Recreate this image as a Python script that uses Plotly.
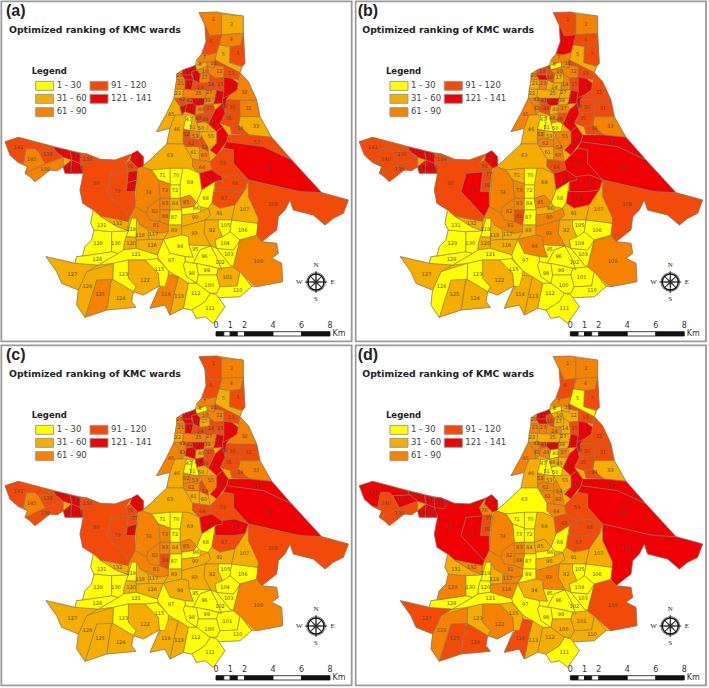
import math
import plotly.graph_objects as go

WIDTH, HEIGHT = 709, 688
panel_letters = ["(a)", "(b)", "(c)", "(d)"]
title_text = "Optimized ranking of KMC wards"
class_labels = ["1 - 30", "31 - 60", "61 - 90", "91 - 120", "121 - 141"]
class_colors = ["#FFFF00", "#F5AE00", "#F58200", "#F24A08", "#EE0005"]
scale_km = [0, 1, 2, 4, 6, 8]

# outer boundary of the city, in map units
city_outline = [(597,38),(650,36),(730,48),(730,100),(735,190),(728,198),(720,218),(745,245),(770,300),(780,350),(815,412),(875,480),(965,578),(1045,600),(1030,640),(1000,655),(975,675),(940,645),(880,630),(870,600),(855,630),(835,650),(830,690),(785,725),(830,730),(835,760),(815,775),(845,790),(848,845),(770,860),(755,860),(720,890),(660,893),(650,885),(675,920),(640,970),(615,950),(590,955),(575,930),(550,925),(510,945),(495,915),(450,925),(470,880),(478,858),(430,885),(400,875),(395,905),(408,922),(320,930),(255,952),(230,915),(235,870),(185,850),(170,815),(138,770),(225,790),(230,770),(248,768),(255,740),(275,720),(282,690),(272,670),(280,630),(248,610),(240,570),(250,520),(213,520),(195,520),(190,500),(172,512),(150,510),(105,545),(90,530),(75,520),(82,500),(55,488),(52,485),(30,465),(15,425),(55,412),(160,440),(210,452),(262,462),(300,478),(345,480),(395,462),(412,452),(430,470),(430,498),(425,500),(450,480),(500,432),(510,385),(470,395),(500,340),(522,295),(525,268),(530,240),(530,222),(548,210),(585,197),(590,180),(605,162),(618,125),(615,75)]

# ward outlines, in map units
wards = {
1: [(597,38),(650,36),(665,42),(665,104),(630,108),(615,75)],
2: [(665,42),(730,48),(730,100),(665,104)],
3: [(730,100),(735,190),(728,198),(688,188),(690,140),(722,135)],
4: [(665,104),(730,100),(722,135),(690,140),(657,135)],
5: [(657,135),(690,140),(688,188),(725,200),(720,218),(645,180),(650,158)],
6: [(615,75),(630,108),(665,104),(657,135),(650,158),(625,165),(605,162),(618,125)],
7: [(605,162),(625,165),(650,158),(645,180),(640,188),(600,190),(590,180)],
8: [(585,197),(620,185),(622,200),(590,210)],
9: [(548,210),(585,197),(590,210),(575,215),(575,225),(545,225)],
10: [(590,210),(622,200),(628,222),(600,222)],
11: [(620,185),(640,188),(645,195),(645,205),(622,200)],
12: [(645,195),(672,200),(672,232),(645,235),(628,222),(622,200),(645,205)],
13: [(645,180),(720,218),(715,240),(695,235),(672,232),(672,200),(645,195),(640,188)],
14: [(628,245),(628,222),(645,235),(650,270),(620,270),(620,248)],
15: [(645,235),(672,232),(672,275),(650,270)],
16: [(672,232),(695,235),(715,250),(712,270),(690,285),(668,295),(672,275)],
17: [(600,222),(628,222),(628,245),(620,248),(598,250)],
18: [(575,215),(590,210),(600,222),(598,250),(580,240)],
19: [(545,225),(575,225),(580,240),(555,240)],
20: [(530,240),(530,222),(548,210),(545,225),(555,240)],
21: [(530,240),(555,240),(555,268),(525,268)],
22: [(525,268),(550,268),(548,295),(522,295)],
23: [(555,240),(580,240),(575,270),(555,268)],
24: [(580,240),(598,250),(620,248),(620,270),(575,270)],
25: [(550,268),(575,270),(620,270),(615,295),(575,295),(548,295)],
27: [(620,270),(650,270),(645,295),(615,295)],
28: [(650,270),(672,275),(668,295),(668,310),(640,312),(645,295)],
29: [(668,295),(690,285),(680,298),(675,335),(668,310)],
30: [(680,298),(720,300),(720,335),(675,340),(675,335)],
31: [(720,300),(770,300),(780,350),(720,350)],
32: [(715,250),(720,218),(745,245),(770,300),(720,300),(680,298),(690,285),(712,270)],
33: [(720,350),(780,350),(815,412),(748,405),(715,375)],
34: [(690,380),(715,375),(748,405),(695,402)],
35: [(675,340),(720,335),(720,350),(715,375),(690,380),(660,370)],
36: [(645,330),(668,310),(675,340),(660,370),(668,380),(650,395),(625,372),(640,340)],
37: [(612,315),(640,312),(645,330),(640,340),(612,340)],
39: [(615,295),(645,295),(640,312),(612,315)],
26: [(575,295),(615,295),(612,315),(588,318),(578,310)],
40: [(588,318),(612,315),(612,340),(585,345)],
41: [(548,295),(575,295),(578,310),(560,312)],
42: [(522,295),(548,295),(560,312),(540,320)],
43: [(540,320),(560,312),(555,335),(545,345)],
44: [(560,312),(578,310),(588,318),(585,345),(555,335)],
45: [(522,295),(540,320),(545,345),(525,345),(510,385),(470,395),(500,340)],
46: [(525,345),(560,345),(550,387),(550,432),(500,432),(510,385)],
47: [(560,345),(578,350),(570,392),(550,387)],
48: [(585,345),(612,340),(612,365),(590,370)],
49: [(612,340),(640,340),(625,372),(612,365)],
50: [(590,370),(612,365),(625,372),(620,395),(598,395)],
51: [(578,350),(585,345),(590,370),(598,395),(570,392)],
52: [(550,387),(570,392),(570,415),(550,420)],
53: [(570,392),(598,395),(598,420),(570,415)],
54: [(598,420),(605,405),(625,445),(625,455),(598,440)],
55: [(598,395),(620,395),(650,395),(660,385),(650,430),(625,445),(605,405)],
56: [(650,395),(668,380),(685,405),(680,425),(650,465),(630,450),(650,430)],
57: [(685,405),(748,405),(815,412),(875,480),(790,440),(680,425)],
58: [(680,425),(790,440),(875,480),(965,578),(900,575),(745,540),(700,490),(700,450),(670,445)],
59: [(650,465),(670,445),(700,450),(700,490),(745,540),(705,525),(665,530),(635,510),(630,485)],
60: [(598,440),(625,455),(630,485),(598,480)],
61: [(560,440),(598,440),(598,480),(578,478),(550,432)],
62: [(550,420),(570,415),(598,420),(598,440),(560,440),(550,432)],
63: [(500,432),(550,432),(578,478),(578,500),(598,520),(565,505),(510,505),(455,510),(425,500),(450,480)],
64: [(578,478),(598,480),(630,485),(635,510),(598,520),(578,500)],
65: [(598,520),(635,510),(665,530),(668,540),(645,545),(605,570)],
66: [(665,530),(705,525),(745,540),(735,570),(700,575),(645,575),(645,545),(668,540)],
67: [(645,575),(700,575),(735,570),(705,615),(660,625),(635,610),(635,570)],
68: [(605,570),(645,545),(635,610),(625,625),(600,620),(590,608)],
69: [(548,505),(565,505),(598,520),(605,570),(590,608),(570,585),(540,595),(540,555)],
70: [(510,505),(548,505),(540,555),(510,555)],
71: [(455,510),(510,505),(510,552),(475,540)],
72: [(510,555),(540,555),(540,595),(510,595)],
73: [(475,540),(510,552),(510,595),(480,595)],
74: [(425,500),(455,510),(475,540),(480,595),(445,620),(440,640),(405,620),(415,515)],
75: [(395,462),(412,452),(430,470),(430,498),(415,505),(390,480)],
76: [(375,490),(390,480),(415,505),(412,512),(385,515)],
77: [(385,515),(412,512),(410,540),(382,548)],
78: [(382,548),(410,540),(405,575),(378,575)],
79: [(335,520),(385,515),(378,575),(405,575),(405,620),(390,650),(320,575)],
80: [(262,462),(300,478),(345,480),(395,462),(375,490),(385,515),(335,520),(320,575),(390,650),(385,665),(300,648),(280,630),(248,610),(240,570),(250,520),(240,490)],
81: [(405,620),(440,640),(450,660),(480,665),(505,675),(505,695),(480,700),(420,675),(395,655),(390,650)],
82: [(445,620),(480,595),(480,665),(450,660),(440,640)],
83: [(480,595),(510,595),(510,630),(480,630)],
84: [(510,595),(540,595),(545,630),(510,630)],
85: [(540,595),(570,585),(590,608),(580,620),(545,625)],
86: [(545,625),(580,620),(590,608),(600,620),(600,640),(590,640),(545,645)],
87: [(510,630),(545,630),(545,675),(505,675)],
88: [(480,630),(510,630),(505,675),(480,665)],
89: [(505,675),(545,675),(545,705),(490,718),(505,695)],
90: [(545,645),(590,640),(625,625),(632,645),(615,660),(545,680)],
91: [(635,610),(660,625),(705,615),(695,660),(615,660),(632,645),(625,625)],
92: [(615,660),(655,660),(655,680),(668,710),(645,720),(650,745),(632,738),(612,700)],
93: [(545,680),(615,660),(612,700),(632,738),(567,735),(565,710),(545,705)],
94: [(490,718),(545,705),(565,710),(567,735),(580,772),(555,770),(510,760)],
95: [(567,735),(632,738),(600,750),(580,790),(555,785),(555,770),(580,772)],
96: [(600,750),(632,738),(650,770),(665,810),(655,805),(630,798),(580,790)],
97: [(475,775),(472,765),(490,718),(510,760),(555,770),(555,785),(550,795),(560,830),(590,850),(565,850),(505,812)],
98: [(550,795),(555,785),(580,790),(590,790),(595,825),(590,850),(560,830)],
99: [(590,790),(630,798),(655,805),(650,825),(595,825)],
100: [(595,825),(650,825),(660,860),(650,880),(630,880),(590,850)],
101: [(655,805),(700,800),(720,815),(712,858),(660,860),(650,825)],
102: [(632,738),(650,745),(670,770),(690,795),(700,800),(655,805),(665,810),(650,770)],
103: [(650,745),(700,750),(720,720),(700,800),(690,795),(670,770)],
104: [(668,710),(690,695),(720,720),(700,750),(650,745),(645,720)],
105: [(655,660),(695,660),(690,695),(668,710),(655,680)],
106: [(695,660),(775,670),(770,705),(720,720),(690,695)],
107: [(745,555),(775,640),(775,670),(695,660),(705,615),(735,570)],
108: [(745,540),(900,575),(965,578),(1045,600),(1030,640),(1000,655),(975,675),(940,645),(880,630),(870,600),(855,630),(835,650),(830,690),(785,725),(770,705),(775,655),(745,590)],
109: [(770,708),(785,725),(830,730),(835,760),(815,775),(845,790),(848,845),(770,860),(700,800),(720,720)],
110: [(660,860),(712,858),(720,815),(755,860),(720,890),(660,893),(630,880),(650,880)],
111: [(575,930),(615,905),(630,880),(650,885),(675,920),(640,970),(615,950),(590,955)],
112: [(565,850),(590,850),(630,880),(615,905),(575,930),(550,925)],
113: [(535,830),(565,850),(550,925),(510,945),(525,870)],
114: [(505,825),(535,830),(525,870),(510,945),(495,915),(450,925),(470,880)],
115: [(435,780),(470,775),(505,812),(505,825),(495,860),(478,858),(475,820)],
116: [(408,720),(445,718),(490,718),(472,765),(408,745)],
117: [(445,690),(480,700),(505,695),(490,718),(445,718)],
118: [(410,655),(420,675),(445,690),(445,718),(408,720)],
119: [(395,655),(410,655),(408,712),(378,710),(385,692)],
120: [(378,710),(408,712),(408,745),(370,750),(372,730)],
121: [(355,760),(370,750),(408,745),(472,765),(475,775),(435,780),(385,780),(340,790),(295,795)],
122: [(385,780),(435,780),(475,820),(478,858),(430,885),(400,875),(408,860),(385,835)],
123: [(340,790),(385,780),(385,835),(408,860),(400,875),(338,838)],
124: [(338,838),(400,875),(395,905),(408,922),(320,930),(325,905),(332,850)],
125: [(290,840),(338,825),(332,850),(325,905),(320,930),(255,952)],
126: [(260,815),(340,790),(338,838),(290,840),(255,952),(230,915),(235,870)],
127: [(138,770),(225,790),(295,795),(260,815),(235,870),(185,850),(170,815)],
128: [(248,768),(335,755),(355,760),(295,795),(225,790),(230,770)],
129: [(282,690),(335,695),(335,755),(248,768),(255,740),(275,720)],
130: [(335,695),(385,692),(378,710),(372,730),(370,750),(355,760),(335,755)],
131: [(280,630),(300,648),(352,680),(385,692),(335,695),(282,690),(272,670)],
132: [(300,648),(385,665),(385,692),(352,680)],
133: [(190,500),(215,480),(213,520),(195,520)],
134: [(240,460),(262,462),(278,478),(270,495),(240,490)],
135: [(215,480),(240,490),(250,520),(213,520)],
136: [(210,452),(240,460),(240,490),(215,480)],
137: [(160,440),(210,452),(215,480),(190,472),(165,452)],
138: [(115,455),(165,452),(190,472),(135,492)],
139: [(190,472),(190,500),(172,512),(150,510),(105,545),(90,530),(75,520),(135,492)],
140: [(78,445),(105,445),(115,455),(135,492),(75,520),(82,500),(55,488),(70,490)],
141: [(15,425),(55,412),(160,440),(165,452),(115,455),(105,445),(78,445),(70,490),(52,485),(30,465)],
}

ward_labels = {
1:(640,60),2:(695,75),3:(713,162),4:(693,120),5:(670,165),6:(632,125),7:(613,172),8:(600,194),9:(584,203),
10:(615,214),11:(640,192),12:(658,215),13:(693,220),14:(632,253),15:(660,255),16:(693,263),17:(613,234),
18:(586,232),19:(563,216),20:(538,226),21:(542,252),22:(533,281),23:(566,252),24:(600,264),25:(595,281),
26:(595,303),27:(627,277),28:(653,292),29:(672,320),30:(697,324),31:(745,325),32:(733,277),33:(768,380),
34:(720,385),35:(685,357),36:(644,366),37:(627,325),39:(622,303),40:(603,330),41:(568,303),42:(546,300),
43:(547,327),44:(575,325),45:(513,345),46:(530,390),47:(567,360),48:(593,357),49:(615,358),50:(603,387),
51:(577,383),52:(558,405),53:(585,410),54:(614,443),55:(632,410),56:(662,423),57:(770,428),58:(805,505),
59:(668,490),60:(612,467),61:(580,458),62:(573,430),63:(510,467),64:(606,503),65:(630,538),66:(705,550),
67:(672,595),68:(617,595),69:(570,548),70:(528,527),71:(487,526),72:(525,572),73:(494,572),74:(445,578),
75:(412,478),76:(390,500),77:(403,523),78:(397,558),79:(352,575),80:(288,550),81:(468,678),82:(464,635),
83:(495,612),84:(525,612),85:(558,607),86:(588,627),87:(522,653),88:(495,650),89:(522,693),90:(585,653),
91:(658,640),92:(636,692),93:(583,700),94:(540,740),95:(586,748),96:(613,770),97:(513,782),98:(575,820),
99:(620,812),100:(628,857),101:(682,832),102:(660,787),103:(686,763),104:(675,730),105:(676,676),106:(728,693),
107:(733,628),108:(818,615),109:(775,785),110:(713,873),111:(630,925),112:(587,880),113:(537,890),114:(497,883),
115:(478,808),116:(456,738),117:(460,704),118:(420,708),119:(393,690),120:(393,730),121:(408,765),122:(435,842),
123:(370,825),124:(362,895),125:(300,885),126:(262,860),127:(217,823),128:(292,780),129:(294,731),130:(348,730),
131:(305,677),132:(352,672),133:(203,507),134:(262,480),135:(235,507),136:(228,470),137:(185,455),138:(143,465),
139:(135,508),140:(95,480),141:(55,443),
}

# rank class of each ward per panel: 1..5
ward_ids = [1,2,3,4,5,6,7,8,9,10,11,12,13,14,15,16,17,18,19,20,21,22,23,24,25,26,27,28,29,30,31,32,33,34,35,36,37,39,40,41,42,43,44,45,46,47,48,49,50,
            51,52,53,54,55,56,57,58,59,60,61,62,63,64,65,66,67,68,69,70,71,72,73,74,75,76,77,78,79,80,81,82,83,84,85,86,87,88,89,90,91,92,93,94,95,96,97,98,99,100,
            101,102,103,104,105,106,107,108,109,110,111,112,113,114,115,116,117,118,119,120,121,122,123,124,125,126,127,128,129,130,131,132,133,134,135,136,137,138,139,140,141]
rank_a = [3,2,4,3,2,4,3,2,5,3,3,3,4,4,4,5,3,5,5,3,3,2,5,4,3,5,3,5,5,4,3,3,2,4,4,5,4,3,3,4,4,5,5,2,2,1,4,4,2,
          2,4,3,4,2,5,4,5,4,3,2,4,2,3,5,4,4,1,1,1,1,1,3,3,5,4,5,5,4,4,3,3,3,2,3,1,1,3,2,2,2,2,2,1,1,1,1,1,1,1,
          2,1,1,1,1,1,2,4,3,1,1,1,2,3,1,2,2,2,1,2,1,2,1,2,3,2,2,1,1,1,1,2,5,4,5,5,5,4,3,3,4]
rank_b = [4,3,4,4,2,5,3,1,4,3,3,3,4,3,4,5,2,4,5,3,2,2,3,2,2,5,2,5,5,4,4,4,3,4,4,5,3,2,2,4,3,3,4,3,2,1,3,4,1,
          1,3,2,3,3,5,5,5,5,3,2,3,2,4,5,5,5,1,2,1,2,1,3,3,5,4,4,4,5,4,3,3,3,1,3,2,1,4,2,3,2,2,3,3,1,1,1,1,1,1,
          1,1,1,1,1,1,2,4,3,1,1,1,2,2,1,2,2,2,1,2,1,2,1,2,2,1,2,1,1,1,1,2,5,4,5,5,5,4,4,4,4]
rank_c = [4,3,4,3,2,4,3,1,5,3,3,3,4,4,4,5,2,5,5,3,3,2,5,4,3,5,3,5,5,4,4,3,3,4,4,5,4,3,2,4,3,3,5,3,2,1,5,4,2,
          1,3,3,4,3,5,5,5,4,2,2,3,2,4,5,5,4,1,2,1,1,1,3,3,5,4,4,5,4,4,3,3,3,2,3,1,1,4,2,2,2,2,2,2,1,1,1,1,1,1,
          1,1,1,1,1,1,2,4,3,1,1,1,2,2,1,2,2,2,1,2,1,2,1,2,2,2,2,1,1,1,1,2,5,4,5,5,5,4,4,3,4]
rank_d = [3,3,4,3,1,4,3,1,5,2,2,2,4,2,4,5,2,4,5,3,3,2,3,3,2,5,2,5,5,4,4,4,2,4,4,5,3,2,1,4,3,3,3,3,2,1,2,2,1,
          1,3,2,3,2,5,5,5,4,3,3,3,1,3,4,4,4,1,2,1,1,1,1,3,5,3,4,4,5,5,3,3,3,2,2,1,1,3,1,2,2,2,3,2,1,1,1,1,1,2,
          2,1,1,1,1,1,2,5,4,2,1,2,2,4,2,3,3,2,1,1,1,3,2,4,4,3,4,1,3,1,2,3,5,5,5,5,5,5,4,4,5]
ranks = [rank_a, rank_b, rank_c, rank_d]

# panel origins in page pixels; one map unit is a third of a pixel
origins = [(0, 0), (354.3, 0), (0, 344), (354.3, 344)]
letter_x = [18, 10, 18, 10]
title_x = [27, 24, 27, 24]
PW, PH = 354, 344

fig = go.Figure()
shapes = []
layout = dict(width=WIDTH, height=HEIGHT, margin=dict(l=0, r=0, t=0, b=0, pad=0), paper_bgcolor="white",
              plot_bgcolor="white", showlegend=False, hovermode=False)
GREY = "#85796a"
FONT = "DejaVu Sans"

for p, (ox, oy) in enumerate(origins):
    sfx = "" if p == 0 else str(p + 1)
    xr, yr = "x" + sfx, "y" + sfx
    layout["xaxis" + sfx] = dict(domain=[ox / WIDTH, min((ox + PW) / WIDTH, 1)], range=[0, 1062], visible=False, fixedrange=True, anchor=yr)
    layout["yaxis" + sfx] = dict(domain=[1 - (oy + PH) / HEIGHT, 1 - oy / HEIGHT], range=[1032, 0], visible=False, fixedrange=True, anchor=xr)

    # frame
    shapes.append(dict(type="rect", xref=xr, yref=yr, x0=4, x1=1055, y0=4, y1=1024, line=dict(color="#9a9a9a", width=1.8), fillcolor="white", layer="below"))

    # city silhouette under the wards
    fig.add_trace(go.Scatter(x=[q[0] for q in city_outline] + [city_outline[0][0]], y=[q[1] for q in city_outline] + [city_outline[0][1]],
                             mode="lines", fill="toself", fillcolor=class_colors[1], line=dict(color=GREY, width=0.6),
                             xaxis=xr, yaxis=yr, hoverinfo="skip"))

    # one trace per ward
    for w, r in zip(ward_ids, ranks[p]):
        poly = wards[w]
        fig.add_trace(go.Scatter(x=[q[0] for q in poly] + [poly[0][0]], y=[q[1] for q in poly] + [poly[0][1]],
                                 mode="lines", fill="toself", fillcolor=class_colors[r - 1],
                                 line=dict(color=GREY, width=0.6), xaxis=xr, yaxis=yr, hoverinfo="skip"))

    # ward numbers
    fig.add_trace(go.Scatter(x=[ward_labels[w][0] for w in ward_ids], y=[ward_labels[w][1] for w in ward_ids],
                             text=[str(w) for w in ward_ids], mode="text",
                             textfont=dict(family=FONT, size=5, color="#5a4a3a"), xaxis=xr, yaxis=yr, hoverinfo="skip"))

    # panel letter and title
    fig.add_trace(go.Scatter(x=[letter_x[p], title_x[p]], y=[37, 91], text=[panel_letters[p], title_text], mode="text", textposition="middle right",
                             textfont=dict(family=["Liberation Sans", FONT], size=[16, 9.3], color="#222222", weight=["bold", "bold"]),
                             xaxis=xr, yaxis=yr, hoverinfo="skip"))

    # legend
    sw_x = [107, 107, 107, 270, 270]
    sw_y = [244, 283, 323, 244, 283]
    for i in range(5):
        shapes.append(dict(type="rect", xref=xr, yref=yr, x0=sw_x[i], x1=sw_x[i] + 54, y0=sw_y[i], y1=sw_y[i] + 27,
                           line=dict(color="#9a9a9a", width=1), fillcolor=class_colors[i]))
    fig.add_trace(go.Scatter(x=[s + 63 for s in sw_x] + [95], y=[y + 14 for y in sw_y] + [217], text=class_labels + ["Legend"],
                             mode="text", textposition="middle right",
                             textfont=dict(family=FONT, size=[8.5] * 5 + [8.5], color=["#444444"] * 5 + ["#222222"],
                                           weight=["normal"] * 5 + ["bold"]),
                             xaxis=xr, yaxis=yr, hoverinfo="skip"))

    # scale bar
    km_x = lambda k: 648 + k * 42.75
    edges = [0, 0.55, 1, 1.5, 2, 4, 6, 8]
    for i in range(len(edges) - 1):
        shapes.append(dict(type="rect", xref=xr, yref=yr, x0=km_x(edges[i]), x1=km_x(edges[i + 1]), y0=995, y1=1008,
                           line=dict(color="#111111", width=0.8), fillcolor="#111111" if i % 2 == 0 else "white"))
    fig.add_trace(go.Scatter(x=[km_x(k) for k in scale_km] + [1017], y=[977] * len(scale_km) + [1001],
                             text=[str(k) for k in scale_km] + ["Km"], mode="text",
                             textfont=dict(family=FONT, size=8, color="#333333"), xaxis=xr, yaxis=yr, hoverinfo="skip"))

    # compass
    cx, cy = 948, 846
    shapes.append(dict(type="circle", xref=xr, yref=yr, x0=cx - 24, x1=cx + 24, y0=cy - 24, y1=cy + 24, line=dict(color="#111111", width=1.4)))
    shapes.append(dict(type="circle", xref=xr, yref=yr, x0=cx - 28, x1=cx + 28, y0=cy - 28, y1=cy + 28, line=dict(color="#111111", width=0.6)))
    sx, sy = [], []
    for k in range(16):
        a = k * math.pi / 8
        rad = 33 if k % 4 == 0 else (27 if k % 2 == 0 else 4)
        sx.append(cx + rad * math.sin(a)); sy.append(cy - rad * math.cos(a))
    fig.add_trace(go.Scatter(x=sx + [sx[0]], y=sy + [sy[0]], mode="lines", fill="toself", fillcolor="#333333",
                             line=dict(color="#111111", width=0.5), xaxis=xr, yaxis=yr, hoverinfo="skip"))
    fig.add_trace(go.Scatter(x=[cx, cx + 50, cx, cx - 50], y=[cy - 49, cy + 2, cy + 52, cy], text=["N", "E", "S", "W"], mode="text",
                             textfont=dict(family="Liberation Serif", size=7, color="#222222"), xaxis=xr, yaxis=yr, hoverinfo="skip"))

layout["shapes"] = shapes
fig.update_layout(**layout)
fig.write_html("out.html", config={"displayModeBar": False},
               post_script="document.body.style.margin='0';document.body.style.overflow='hidden';")
